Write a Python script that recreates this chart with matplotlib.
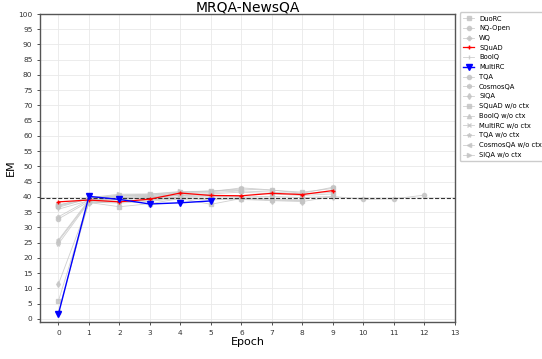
import numpy as np
import matplotlib
matplotlib.use("Agg")
import matplotlib.pyplot as plt

# EM per epoch on MRQA-NewsQA, one list per source task
names = ["DuoRC", "NQ-Open", "WQ", "SQuAD", "BoolQ", "MultiRC", "TQA", "CosmosQA",
         "SIQA", "SQuAD w/o ctx", "BoolQ w/o ctx", "MultiRC w/o ctx", "TQA w/o ctx",
         "CosmosQA w/o ctx", "SIQA w/o ctx"]
duorc = [37.4, 39.6, 40.6, 40.9, 41.6, 42.0, 42.6, 42.2, 41.6, 42.8]
nq_open = [37.0, 39.3, 40.2, 40.5, 41.2, 41.4, 42.0, 41.6, 41.0, 41.5]
wq = [33.5, 39.0, 39.8, 40.2, 40.8, 41.0, 41.6, 41.0, 40.5, 41.0]
squad = [38.4, 39.0, 38.4, 39.3, 41.3, 40.5, 40.4, 41.2, 40.8, 42.1]
boolq = [36.0, 38.8, 39.5, 39.5, 40.0, 40.5, 40.2]
multirc = [1.6, 40.2, 39.2, 37.7, 38.1, 38.7]
tqa = [32.8, 38.5, 39.2, 39.8, 40.5, 40.2, 40.0, 40.2, 39.8, 40.2, 39.2, 39.4, 40.6]
cosmosqa = [36.6, 39.5, 40.4, 40.6, 41.4, 41.7, 43.0, 42.3, 41.2, 43.2]
siqa = [11.4, 38.0, 38.5, 39.0, 39.8, 39.5, 39.2, 38.8, 38.5, 40.1]
squad_noctx = [5.9, 38.2, 36.8, 37.8, 39.5, 37.6, 39.5, 39.0, 38.8]
boolq_noctx = [25.9, 39.0, 39.0, 40.0, 40.5, 40.8]
multirc_noctx = [25.5, 38.6, 38.5, 39.2, 40.0]
tqa_noctx = [24.6, 38.3, 38.0, 38.6, 39.6, 39.0, 39.6, 39.4, 39.0]
cosmosqa_noctx = [2.2, 38.7, 39.8, 40.2, 40.6]
siqa_noctx = [37.2, 39.8, 40.9, 41.0, 41.8, 41.9, 42.2]
baseline = 39.7

series = [duorc, nq_open, wq, squad, boolq, multirc, tqa, cosmosqa, siqa,
          squad_noctx, boolq_noctx, multirc_noctx, tqa_noctx, cosmosqa_noctx, siqa_noctx]
markers = ["s", "o", "P", "+", "|", "v", "o", "h", "d", "s", "^", "x", "*", "<", ">"]

fig = plt.figure(figsize=(5.42, 3.59), dpi=100)
ax = fig.add_axes([0.074, 0.103, 0.765, 0.858])

for name, vals, m in zip(names, series, markers):
    x = np.arange(len(vals))
    if name == "SQuAD":
        ax.plot(x, vals, color="red", marker=m, ms=3.5, lw=0.9, label=name, zorder=5)
    elif name == "MultiRC":
        ax.plot(x, vals, color="blue", marker=m, ms=4, lw=1.0, label=name, zorder=6)
    else:
        ax.plot(x, vals, color="#c4c4c4", marker=m, ms=3, lw=0.6, alpha=0.8,
                label=name, zorder=3)

ax.axhline(baseline, color="#333333", ls="--", lw=0.8, zorder=4)

ax.set_xlim(-0.6, 13)
ax.set_ylim(-1, 100)
ax.set_xticks(np.arange(0, 14))
ax.set_yticks(np.arange(0, 101, 5))
ax.tick_params(labelsize=5.3, length=2, width=0.6, colors="#333333")
ax.grid(True, color="#e9e9e9", lw=0.6)
for s in ax.spines.values():
    s.set_color("#555555")
    s.set_linewidth(1.0)

ax.set_title("MRQA-NewsQA", fontsize=10, pad=2)
ax.set_xlabel("Epoch", fontsize=8, labelpad=1)
ax.set_ylabel("EM", fontsize=8, labelpad=2)

ax.legend(loc="upper left", bbox_to_anchor=(1.012, 1.005), borderaxespad=0,
          fontsize=4.9, handlelength=1.7, handletextpad=0.7, labelspacing=0.55,
          borderpad=0.45, framealpha=1, edgecolor="#cccccc")

fig.savefig("out.png", dpi=100)
